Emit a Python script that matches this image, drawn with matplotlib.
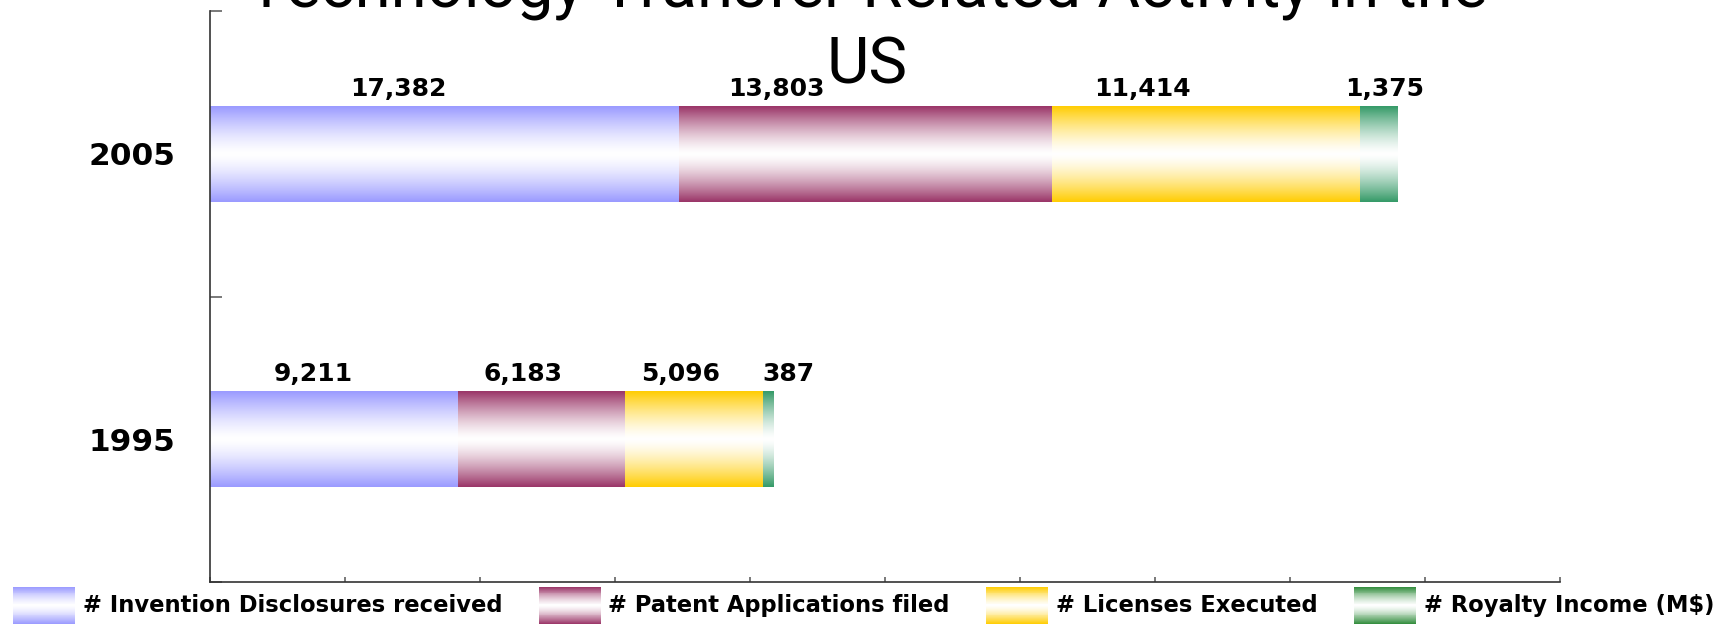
import numpy as np
import matplotlib
matplotlib.use("Agg")
import matplotlib.pyplot as plt
from matplotlib.patches import Patch, Rectangle
from matplotlib.legend_handler import HandlerBase

# data
years = ["1995", "2005"]
series = ["# Invention Disclosures received", "# Patent Applications filed",
          "# Licenses Executed", "# Royalty Income (M$)"]
disclosures = [9211, 17382]
patents = [6183, 13803]
licenses = [5096, 11414]
royalty = [387, 1375]
values = [disclosures, patents, licenses, royalty]

# styles
bar_colors = ["#9999FF", "#993366", "#FFCC00", "#339966"]
legend_colors = ["#9999FF", "#993366", "#FFCC00", "#2F8B3A"]
# horizontal nudges of the value labels (data units, relative to segment centre)
label_dx = [[-770, -710, -510, 750], [-1710, -3300, -2360, 220]]


def gradient(color, n=64, power=1.4):
    c = np.array(matplotlib.colors.to_rgb(color))
    t = (np.arange(n) + 0.5) / n
    a = np.abs(2 * t - 1) ** power
    return (1 - a)[:, None] * np.ones(3) + a[:, None] * c


class GradientHandler(HandlerBase):
    def create_artists(self, legend, orig_handle, xdescent, ydescent,
                       width, height, fontsize, trans):
        cols = gradient(orig_handle.get_facecolor(), n=40)
        n = len(cols)
        arts = []
        for i, col in enumerate(cols):
            r = Rectangle((-xdescent, -ydescent + i * height / n), width, height / n * 1.05,
                          facecolor=col, edgecolor="none", transform=trans)
            arts.append(r)
        return arts


fig = plt.figure(figsize=(17.29, 6.30), dpi=100)
ax = fig.add_axes([209.5 / 1729, 48 / 630, (1560 - 209.5) / 1729, (582 - 11) / 630])

ypos = np.arange(len(years))
bar_h = 0.336
left = np.zeros(len(years))
for k, vals in enumerate(values):
    bars = ax.barh(ypos, vals, left=left, height=bar_h, facecolor="none", edgecolor="none")
    for j, p in enumerate(bars.patches):
        x0, y0 = p.get_x(), p.get_y()
        img = gradient(bar_colors[k])[:, None, :]
        ax.imshow(img, extent=[x0, x0 + p.get_width(), y0, y0 + p.get_height()],
                  aspect="auto", interpolation="bilinear", zorder=2)
        ax.annotate(f"{vals[j]:,}", (x0 + p.get_width() / 2 + label_dx[j][k], y0 + p.get_height()),
                    xytext=(0, 7.2), textcoords="offset points", ha="center", va="baseline",
                    fontsize=18, fontweight="bold", family="DejaVu Sans")
    left += np.array(vals)

ax.set_xlim(0, 50000)
ax.set_ylim(-0.5, 1.5)
ax.set_xticks(np.arange(0, 50001, 5000))
ax.set_xticklabels([])
ax.set_yticks(ypos)
ax.set_yticklabels(years, fontsize=22.5, fontweight="bold", family="DejaVu Sans")
ax.set_yticks([-0.5, 0.5, 1.5], minor=True)
ax.tick_params(axis="y", which="major", direction="in", length=5, width=1.1, color="#555555", pad=24.5)
ax.tick_params(axis="y", which="minor", direction="in", length=8.6, width=1.1, color="#555555")
ax.tick_params(axis="x", direction="in", length=3.8, width=1.1, color="#555555")
for s in ["top", "right"]:
    ax.spines[s].set_visible(False)
for s in ["left", "bottom"]:
    ax.spines[s].set_color("#333333")
    ax.spines[s].set_linewidth(1.2)

fig.text(867 / 1729, 1 - 84 / 630, "Technology Transfer Related Activity in the\nUS",
         ha="center", va="baseline", multialignment="center", fontsize=47,
         family="Roboto", linespacing=1.3)

handles = [Patch(facecolor=c, label=s) for c, s in zip(legend_colors, series)]
fs = 16.3
fpx = fs * 100 / 72
fig.legend(handles=handles, loc="upper left", bbox_to_anchor=(13 / 1729, 1 - 587 / 630),
           ncol=4, frameon=False, borderpad=0, borderaxespad=0,
           handlelength=62 / fpx, handleheight=48 / fpx,
           handletextpad=8 / fpx, columnspacing=36 / fpx,
           handler_map={Patch: GradientHandler()},
           prop={"family": "DejaVu Sans", "weight": "bold", "size": fs})

fig.savefig("out.png", dpi=100)
